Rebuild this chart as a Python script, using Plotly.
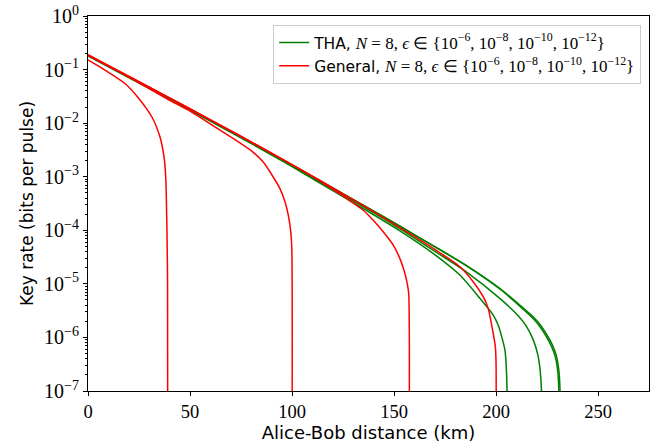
import plotly.graph_objects as go

# ---- data (distance in km, log10 of key rate in bits per pulse) ----
tha_d_a = [0, 25.5, 47.5, 74.5, 96.6, 113.7, 143.1, 152.9, 169.3, 182.4, 192.2, 198.7, 201.1, 204.4, 205.1, 205.4, 205.5]
tha_r_a = [-0.745, -1.26, -1.705, -2.265, -2.735, -3.12, -3.78, -4.01, -4.435, -4.84, -5.275, -5.587, -5.774, -6.24, -6.61, -7.0, -9]

tha_d_b = [0, 25.5, 47.5, 74.5, 96.6, 113.7, 143.1, 152.9, 169.3, 185.6, 202, 211, 215, 218.3, 220.5, 221.6, 222.3, 222.4]
tha_r_b = [-0.74, -1.255, -1.70, -2.255, -2.72, -3.10, -3.74, -3.97, -4.374, -4.779, -5.275, -5.60, -5.80, -6.05, -6.32, -6.60, -7.0, -9]

tha_d_c = [0, 25.5, 47.5, 74.5, 96.6, 113.7, 143.1, 152.9, 169.3, 185.6, 202, 211.8, 218.3, 221.6, 224.6, 227.2, 229.2, 230.3, 230.8, 230.9]
tha_r_c = [-0.735, -1.245, -1.69, -2.245, -2.71, -3.075, -3.71, -3.925, -4.29, -4.665, -5.10, -5.42, -5.65, -5.80, -5.98, -6.17, -6.38, -6.65, -7.0, -9]

tha_d_d = [0, 25.5, 47.5, 74.5, 96.6, 113.7, 143.1, 152.9, 169.3, 185.6, 202, 211.8, 218.3, 221.6, 224.9, 227.5, 229.5, 230.8, 231.4, 231.5]
tha_r_d = [-0.735, -1.245, -1.69, -2.245, -2.71, -3.075, -3.71, -3.925, -4.29, -4.66, -5.09, -5.40, -5.62, -5.76, -5.95, -6.13, -6.33, -6.61, -7.0, -9]

gen_d_1 = [0, 8.3, 18.1, 24.5, 31.4, 35.3, 37.3, 38.1, 38.7, 39.0, 39.1]
gen_r_1 = [-0.82, -1.01, -1.26, -1.52, -1.89, -2.26, -2.64, -3.01, -4.0, -5.0, -9]

gen_d_2 = [0, 20, 40.2, 50, 56.5, 64.7, 72.9, 81.0, 85.9, 90.8, 94.1, 96.6, 98.2, 99.4, 99.9, 100.0]
gen_r_2 = [-0.735, -1.14, -1.58, -1.775, -1.93, -2.13, -2.33, -2.545, -2.725, -3.005, -3.222, -3.472, -3.72, -4.03, -4.34, -9]

gen_d_3 = [0, 25.5, 47.5, 74.5, 96.6, 113.7, 118.6, 128.4, 134.9, 139.8, 144.8, 149.7, 152.9, 154.9, 156.5, 157.2, 157.3]
gen_r_3 = [-0.73, -1.24, -1.685, -2.24, -2.705, -3.08, -3.2, -3.45, -3.627, -3.814, -4.032, -4.28, -4.529, -4.747, -4.995, -5.18, -9]

gen_d_4 = [0, 25.5, 47.5, 74.5, 96.6, 113.7, 130, 146.4, 152.9, 162.7, 172.5, 182.4, 188.9, 193.8, 196.2, 197.9, 199.7, 200, 200.1, 200.2]
gen_r_4 = [-0.72, -1.235, -1.68, -2.235, -2.70, -3.07, -3.43, -3.80, -3.95, -4.18, -4.42, -4.685, -4.965, -5.245, -5.462, -5.774, -6.18, -6.43, -7.0, -9]

x_ticks = [0, 50, 100, 150, 200, 250]
y_exps = [0, -1, -2, -3, -4, -5, -6, -7]

tha_curves = [(tha_d_a, tha_r_a), (tha_d_b, tha_r_b), (tha_d_c, tha_r_c), (tha_d_d, tha_r_d)]
gen_curves = [(gen_d_1, gen_r_1), (gen_d_2, gen_r_2), (gen_d_3, gen_r_3), (gen_d_4, gen_r_4)]

SERIF = "Liberation Serif"
SANS = "DejaVu Sans"

math = ('<span style="font-family:Liberation Serif;font-size:17px"><i>N</i> = 8, <i>ϵ</i> ∈ '
        '{10<sup>−6</sup>, 10<sup>−8</sup>, 10<sup>−10</sup>, 10<sup>−12</sup>}</span>')
tha_name = 'THA, ' + math
gen_name = 'General, ' + math

fig = go.Figure()
for i, (d, r) in enumerate(tha_curves):
    fig.add_trace(go.Scatter(
        x=d, y=[10 ** v for v in r], mode="lines",
        line=dict(color="#008000", width=1.5, shape="spline", smoothing=0.7),
        name=tha_name, legendgroup="tha", showlegend=(i == 0)))
for i, (d, r) in enumerate(gen_curves):
    fig.add_trace(go.Scatter(
        x=d, y=[10 ** v for v in r], mode="lines",
        line=dict(color="#ff0000", width=1.5, shape="spline", smoothing=0.7),
        name=gen_name, legendgroup="gen", showlegend=(i == 0)))

minor_vals = [k * 10.0 ** e for e in range(-7, 0) for k in range(2, 10)]

fig.update_layout(
    width=664, height=448,
    margin=dict(l=88, r=15, t=16, b=57),
    paper_bgcolor="white", plot_bgcolor="white",
    font=dict(family=SANS, color="black"),
    showlegend=True,
    legend=dict(
        x=0.986, y=0.976, xanchor="right", yanchor="top",
        bgcolor="rgba(255,255,255,0.8)", bordercolor="#cccccc", borderwidth=1,
        font=dict(family=SANS, size=15.5, color="black"),
        tracegroupgap=0, itemwidth=30,
    ),
    xaxis=dict(
        range=[0, 275], showgrid=False, zeroline=False,
        showline=True, linecolor="black", linewidth=1, mirror=True,
        ticks="outside", ticklen=4, tickwidth=1, tickcolor="black",
        tickmode="array", tickvals=x_ticks, ticktext=[str(v) for v in x_ticks],
        tickfont=dict(family=SERIF, size=18.5, color="black"),
        title=dict(text="Alice-Bob distance (km)", font=dict(family=SANS, size=18), standoff=3),
        automargin=False,
    ),
    yaxis=dict(
        type="log", range=[-7, 0], showgrid=False, zeroline=False,
        showline=True, linecolor="black", linewidth=1, mirror=True,
        ticks="outside", ticklen=4, tickwidth=1, tickcolor="black",
        tickmode="array", tickvals=[10.0 ** e for e in y_exps],
        ticktext=["10<sup>%s</sup>" % (str(e).replace("-", "−")) for e in y_exps],
        tickfont=dict(family=SERIF, size=20, color="black"),
        minor=dict(ticks="outside", ticklen=2, tickwidth=0.8, tickcolor="black",
                   tickmode="array", tickvals=minor_vals, showgrid=False),
        title=dict(text="Key rate (bits per pulse)", font=dict(family=SANS, size=17), standoff=6),
        automargin=False,
    ),
)

fig.write_html("out.html", config={"displayModeBar": False},
               post_script="document.body.style.margin='0';document.body.style.overflow='hidden';")
